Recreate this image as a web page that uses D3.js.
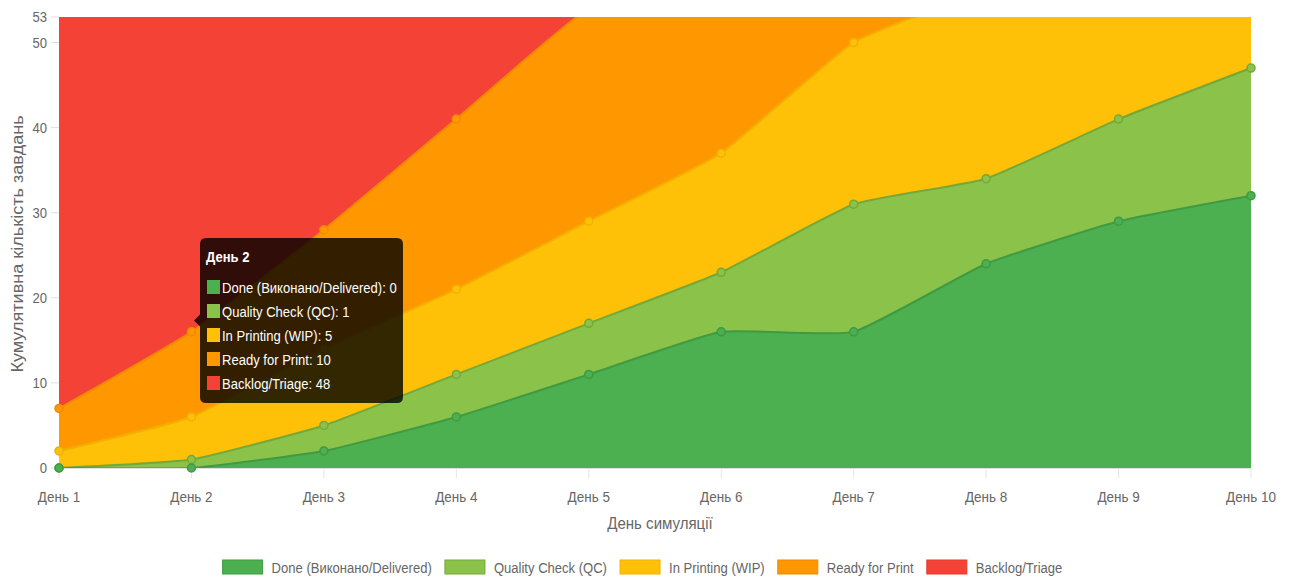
<!DOCTYPE html>
<html>
<head>
<meta charset="utf-8">
<script src="https://cdn.jsdelivr.net/npm/d3@7"></script>
<style>
  html, body { margin: 0; padding: 0; background: #fff; }
  svg { display: block; }
  text { font-family: "Liberation Sans", Arial, sans-serif; }
</style>
</head>
<body>
<svg id="chart" width="1291" height="581"></svg>
<script>
// ---- data ----
const days = ["День 1","День 2","День 3","День 4","День 5","День 6","День 7","День 8","День 9","День 10"];
const seriesNames = ["Done (Виконано/Delivered)","Quality Check (QC)","In Printing (WIP)","Ready for Print","Backlog/Triage"];
const done    = [0, 0, 2, 6, 11, 16, 16, 24, 29, 32];
const qc      = [0, 1, 3, 5, 6, 7, 15, 10, 12, 15];
const wip     = [2, 5, 9, 10, 12, 14, 19, 22, 18, 15];
const ready   = [5, 10, 14, 20, 25, 20, 8, 4, 3, 1];
const backlog = [57, 48, 36, 23, 10, 7, 6, 4, 2, 1];
const yTicks = [0, 10, 20, 30, 40, 50, 53];
const yMax = 53;
const colors  = ["#4caf50", "#8bc34a", "#ffc107", "#ff9800", "#f44336"];
const strokes = ["#3f9a43", "#74a83a", "#f2b000", "#f08a00", "#e8392c"];
const yTitle = "Кумулятивна кількість завдань";
const xTitle = "День симуляції";
const tooltipDay = 1; // index of "День 2"

// ---- layout ----
const svg = d3.select("#chart");
const pL = 59, pR = 1251, pT = 17, pB = 468;
const SX = 0.87;
const FS = 15;
const tickColor = "#666";

const keys = ["done","qc","wip","ready","backlog"];
const table = days.map((d, i) => ({day: d, done: done[i], qc: qc[i], wip: wip[i], ready: ready[i], backlog: backlog[i]}));
const stacked = d3.stack().keys(keys)(table);

const x = d3.scalePoint().domain(days).range([pL, pR]);
const y = d3.scaleLinear().domain([0, yMax]).range([pB, pT]);

function txt(parent, px, py, s, opts = {}) {
  const sx = opts.sx || SX;
  const g = parent.append("g").attr("transform",
    opts.rotate ? `translate(${px},${py}) rotate(${opts.rotate}) scale(${sx},1)` : `translate(${px},${py}) scale(${sx},1)`);
  return g.append("text").text(s)
    .attr("font-size", opts.size || FS)
    .attr("fill", opts.fill || tickColor)
    .attr("text-anchor", opts.anchor || "start")
    .attr("font-weight", opts.weight || "normal");
}

svg.append("defs").append("clipPath").attr("id", "clip")
  .append("rect").attr("x", pL).attr("y", pT).attr("width", pR - pL).attr("height", pB - pT);

const yAxisG = svg.append("g");
yTicks.forEach(v => {
  yAxisG.append("line").attr("x1", pL - 8).attr("x2", pL).attr("y1", y(v)).attr("y2", y(v))
    .attr("stroke", "#e0e0e0").attr("stroke-width", 1);
  txt(yAxisG, pL - 12, y(v) + 5, String(v), {anchor: "end"});
});
const xAxisG = svg.append("g");
days.forEach(d => {
  xAxisG.append("line").attr("x1", x(d)).attr("x2", x(d)).attr("y1", pB).attr("y2", pB + 10)
    .attr("stroke", "#e6e6e6").attr("stroke-width", 1);
  txt(xAxisG, x(d), 502, d, {anchor: "middle", sx: 0.9});
});
svg.append("line").attr("x1", pL).attr("x2", pR).attr("y1", pB + 0.5).attr("y2", pB + 0.5)
  .attr("stroke", "#e0e0e0");

txt(svg, 660, 529, xTitle, {anchor: "middle", size: 16, sx: 0.94});
txt(svg, 23, 244, yTitle, {anchor: "middle", size: 16, rotate: -90, sx: 1.13});

const curve = d3.curveCardinal.tension(0.6);
const area = d3.area().x((d, i) => x(days[i])).y0(d => y(d[0])).y1(d => y(d[1])).curve(curve);
const line = d3.line().x((d, i) => x(days[i])).y(d => y(d[1])).curve(curve);

const plot = svg.append("g");
for (let s = stacked.length - 1; s >= 0; s--) {
  const g = plot.append("g");
  g.append("path").datum(stacked[s]).attr("d", area).attr("fill", colors[s]).attr("clip-path", "url(#clip)");
  g.append("path").datum(stacked[s]).attr("d", line).attr("fill", "none")
    .attr("stroke", strokes[s]).attr("stroke-width", 2).attr("clip-path", "url(#clip)");
}
for (let s = stacked.length - 1; s >= 0; s--) {
  plot.append("g").selectAll("circle")
    .data(stacked[s].map((d, i) => ({v: d[1], i})).filter(d => d.v <= yMax))
    .join("circle")
    .attr("cx", d => x(days[d.i])).attr("cy", d => y(d.v)).attr("r", 4)
    .attr("fill", colors[s]).attr("stroke", strokes[s]).attr("stroke-width", 1.5);
}

const legend = svg.append("g");
const measure = svg.append("text").attr("font-size", FS).attr("visibility", "hidden");
const widths = seriesNames.map(n => { measure.text(n); return measure.node().getComputedTextLength() * SX; });
measure.remove();
const boxW = 40, boxH = 14, textOff = 49, gap = 13;
const total = widths.reduce((a, w) => a + textOff + w, 0) + gap * (seriesNames.length - 1);
let lx = 642.5 - total / 2;
seriesNames.forEach((n, i) => {
  legend.append("rect").attr("x", lx).attr("y", 560).attr("width", boxW).attr("height", boxH)
    .attr("fill", colors[i]).attr("stroke", strokes[i]).attr("stroke-width", 1);
  txt(legend, lx + textOff, 572.5, n);
  lx += textOff + widths[i] + gap;
});

const tt = svg.append("g");
const tx = 200, ty = 238, tw = 203, th = 165;
tt.append("path")
  .attr("d", `M${tx + 6},${ty} H${tx + tw - 6} Q${tx + tw},${ty} ${tx + tw},${ty + 6} V${ty + th - 6} Q${tx + tw},${ty + th} ${tx + tw - 6},${ty + th} H${tx + 6} Q${tx},${ty + th} ${tx},${ty + th - 6} V${ty + th / 2 + 6} L${tx - 6},${ty + th / 2} L${tx},${ty + th / 2 - 6} V${ty + 6} Q${tx},${ty} ${tx + 6},${ty} Z`)
  .attr("fill", "rgba(0,0,0,0.8)");
txt(tt, 206, 262, days[tooltipDay], {fill: "#fff", weight: "bold"});
const raw = [done, qc, wip, ready, backlog];
seriesNames.forEach((n, i) => {
  const cy = 287 + i * 24;
  tt.append("rect").attr("x", 207).attr("y", cy - 7).attr("width", 13).attr("height", 14)
    .attr("fill", colors[i]);
  txt(tt, 222, cy + 5.5, `${n}: ${raw[i][tooltipDay]}`, {fill: "#fff"});
});
</script>
</body>
</html>
